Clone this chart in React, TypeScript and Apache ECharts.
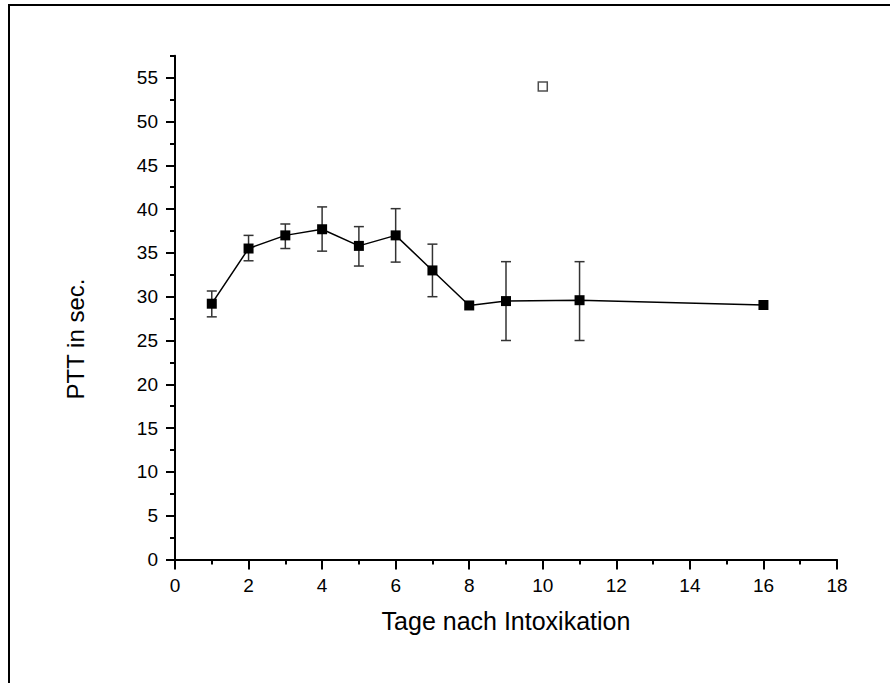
import React, { useEffect, useRef } from "react";
import * as echarts from "echarts";

const days = [1, 2, 3, 4, 5, 6, 7, 8, 9, 11, 16];
const means = [29.2, 35.5, 37.0, 37.7, 35.8, 37.0, 33.0, 29.0, 29.5, 29.6, 29.05];
const errUpper = [30.65, 37.0, 38.3, 40.25, 38.0, 40.05, 36.0, null, 34.0, 34.0, null];
const errLower = [27.7, 34.1, 35.5, 35.2, 33.5, 33.95, 30.0, null, 25.0, 25.0, null];
const outlierDays = [10];
const outlierValues = [54];
const yLabelValues = [0, 5, 10, 15, 20, 25, 30, 35, 40, 45, 50, 55];
const xTitle = "Tage nach Intoxikation";
const yTitle = "PTT in sec.";

export default function App() {
  const ref = useRef<HTMLDivElement>(null);
  useEffect(() => {
    if (!ref.current) return;
    const chart = echarts.init(ref.current, null, { renderer: "svg" });
    const lineData = days.map((d, i) => [d, means[i]]);
    const errData: number[][] = [];
    days.forEach((d, i) => {
      if (errUpper[i] != null && errLower[i] != null) errData.push([d, errLower[i] as number, errUpper[i] as number]);
    });
    const font = "Arial, 'Liberation Sans', sans-serif";
    chart.setOption({
      animation: false,
      backgroundColor: "#fff",
      graphic: [
        {
          type: "rect",
          shape: { x: 9, y: 5, width: 900, height: 700 },
          style: { fill: "none", stroke: "#000", lineWidth: 2 },
          silent: true,
        },
        {
          type: "text",
          x: 75,
          y: 339,
          rotation: Math.PI / 2,
          style: {
            text: yTitle,
            fontFamily: font,
            fontSize: 24,
            fill: "#000",
            align: "center",
            verticalAlign: "middle",
          },
          silent: true,
        },
      ],
      grid: { left: 175, top: 55.8, width: 662, height: 503.7, containLabel: false },
      xAxis: {
        type: "value",
        min: 0,
        max: 18,
        interval: 2,
        name: xTitle,
        nameLocation: "middle",
        nameGap: 49,
        nameTextStyle: { fontFamily: font, fontSize: 25, color: "#000" },
        axisLine: { show: true, lineStyle: { color: "#000", width: 2 } },
        axisTick: { show: true, inside: false, length: 10, lineStyle: { color: "#000", width: 2 } },
        minorTick: { show: true, splitNumber: 2, length: 5, lineStyle: { color: "#000", width: 2 } },
        axisLabel: { margin: 16, fontFamily: font, fontSize: 19, color: "#000" },
        splitLine: { show: false },
        minorSplitLine: { show: false },
      },
      yAxis: [
        {
          type: "value",
          min: 0,
          max: 57.5,
          interval: 2.5,
          position: "left",
          axisLine: { show: true, onZero: false, lineStyle: { color: "#000", width: 2 } },
          axisTick: { show: true, inside: false, length: 9, customValues: yLabelValues, lineStyle: { color: "#000", width: 2 } },
          axisLabel: { margin: 17, customValues: yLabelValues, fontFamily: font, fontSize: 19, color: "#000" },
          splitLine: { show: false },
        },
        {
          type: "value",
          min: 0,
          max: 57.5,
          interval: 2.5,
          position: "left",
          axisLine: { show: false },
          axisTick: { show: true, inside: false, length: 5, lineStyle: { color: "#000", width: 2 } },
          axisLabel: { show: false },
          splitLine: { show: false },
        },
      ],
      series: [
        {
          type: "custom",
          yAxisIndex: 0,
          z: 1,
          data: errData,
          encode: { x: 0, y: [1, 2] },
          renderItem: (params: any, api: any) => {
            const x = api.value(0);
            const lo = api.value(1);
            const hi = api.value(2);
            const top = api.coord([x, hi]);
            const bot = api.coord([x, lo]);
            const hw = 5;
            const st = { stroke: "#333", lineWidth: 1.5 };
            return {
              type: "group",
              children: [
                { type: "line", shape: { x1: top[0], y1: top[1], x2: bot[0], y2: bot[1] }, style: st },
                { type: "line", shape: { x1: top[0] - hw, y1: top[1], x2: top[0] + hw, y2: top[1] }, style: st },
                { type: "line", shape: { x1: bot[0] - hw, y1: bot[1], x2: bot[0] + hw, y2: bot[1] }, style: st },
              ],
            };
          },
        },
        {
          type: "line",
          yAxisIndex: 0,
          z: 3,
          data: lineData,
          symbol: "rect",
          symbolSize: 10,
          itemStyle: { color: "#000" },
          lineStyle: { color: "#000", width: 1.5 },
        },
        {
          type: "scatter",
          yAxisIndex: 0,
          z: 3,
          data: outlierDays.map((d, i) => [d, outlierValues[i]]),
          symbol: "rect",
          symbolSize: 9,
          itemStyle: { color: "#fff", borderColor: "#222", borderWidth: 1.5 },
        },
      ],
    });
    return () => chart.dispose();
  }, []);
  return (
    <div
      ref={ref}
      style={{ position: "fixed", left: 0, top: 0, width: 890, height: 683 }}
    />
  );
}
